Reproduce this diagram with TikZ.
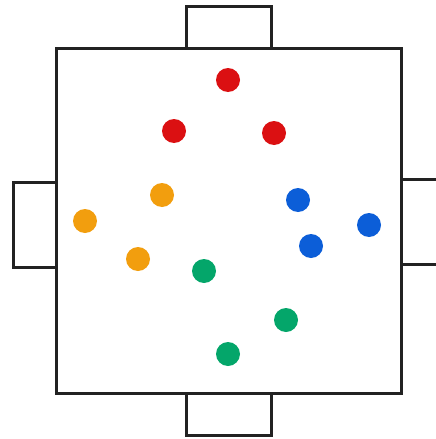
\documentclass[tikz,border=0pt]{standalone}
\definecolor{SeatRed}{RGB}{219,16,18}
\definecolor{SeatOrange}{RGB}{242,158,14}
\definecolor{SeatBlue}{RGB}{12,94,216}
\definecolor{SeatGreen}{RGB}{4,166,106}
\definecolor{EdgeGray}{RGB}{34,34,34}
\usepackage{tikz}
\usetikzlibrary{positioning}

\begin{document}
\begin{tikzpicture}[x=1pt, y=-1pt,
  edge/.style={draw=EdgeGray, line width=3pt},
  dot/.style={circle, inner sep=0pt, minimum size=24pt}
]
\useasboundingbox (0,0) rectangle (436,439);
% Tabs
\draw[edge] (186,48) -- (186,6) -- (271,6) -- (271,48);
\draw[edge] (186,393) -- (186,435) -- (271,435) -- (271,393);
\draw[edge] (56,182) -- (13,182) -- (13,267) -- (56,267);
\draw[edge] (401,179) -- (445,179) (445,264) -- (401,264);
% Square
\draw[edge] (56,48) rectangle (401,393);

% Red
\node[dot, fill=SeatRed] (r1) at (228,80) {};
\node[dot, fill=SeatRed] (r2) at (174,131) {};
\node[dot, fill=SeatRed] (r3) at (274,133) {};
% Orange
\node[dot, fill=SeatOrange] (o1) at (162,195) {};
\node[dot, fill=SeatOrange] (o2) at (85,221) {};
\node[dot, fill=SeatOrange] (o3) at (138,259) {};
% Blue
\node[dot, fill=SeatBlue] (b1) at (298,200) {};
\node[dot, fill=SeatBlue] (b2) at (369,225) {};
\node[dot, fill=SeatBlue] (b3) at (311,246) {};
% Green
\node[dot, fill=SeatGreen] (g1) at (204,271) {};
\node[dot, fill=SeatGreen] (g2) at (286,320) {};
\node[dot, fill=SeatGreen] (g3) at (228,354) {};
\end{tikzpicture}
\end{document}
